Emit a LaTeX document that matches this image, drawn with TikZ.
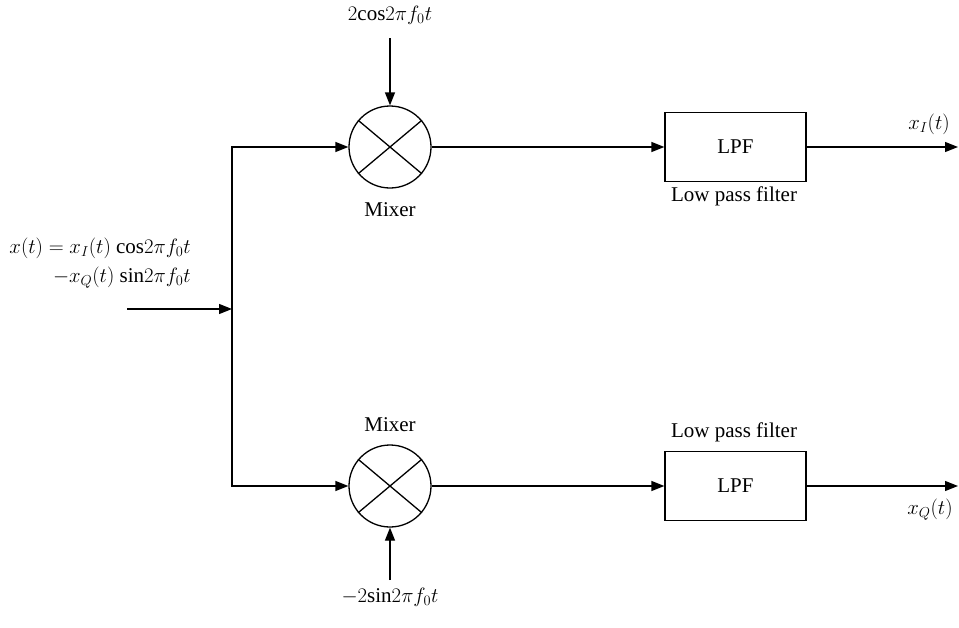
\documentclass[tikz,border=0pt]{standalone}
\usepackage{fontspec}
\setmainfont{Liberation Serif}
\usetikzlibrary{arrows.meta}
\tikzset{
  line/.style={line width=1.3pt},
  arr/.style={line width=1.3pt,-{Triangle[length=13pt,width=10pt]}},
  mixer/.style={circle,draw,line width=1.3pt,minimum size=82pt,inner sep=0pt},
  lpfbox/.style={rectangle,draw,line width=1.3pt,minimum width=141pt,minimum height=69pt,inner sep=0pt},
  lbl/.style={inner sep=0pt,font=\fontsize{21}{29}\selectfont}
}
\begin{document}
\begin{tikzpicture}[x=1pt,y=-1pt,font=\fontsize{21}{29}\selectfont]
\useasboundingbox (0,0) rectangle (959,627);
% blocks
\node[mixer] (mix1) at (390,147) {};
\node[mixer] (mix2) at (390,486) {};
\draw[line] (mix1.140) -- (mix1.320) (mix1.40) -- (mix1.220);
\draw[line] (mix2.140) -- (mix2.320) (mix2.40) -- (mix2.220);
\node[lpfbox] (lpf1) at (735.5,147) {LPF};
\node[lpfbox] (lpf2) at (735.5,486) {LPF};
% labels
\node[lbl] (lo1) at (390,15) {$2\mathrm{cos}2\pi f_0 t$};
\node[lbl] (lo2) at (390,597) {$-2\mathrm{sin}2\pi f_0 t$};
\node[lbl] (mx1) at (390,210) {Mixer};
\node[lbl] (mx2) at (390,425) {Mixer};
\node[lbl] (lp1) at (734,196) {Low pass filter};
\node[lbl] (lp2) at (734,432) {Low pass filter};
\node[lbl] (xi) at (929,124) {$x_I(t)$};
\node[lbl] (xq) at (930,510) {$x_Q(t)$};
\node[lbl,align=right,anchor=east] (xin) at (191,263) {$x(t) = x_I(t)\ \mathrm{cos}2\pi f_0 t$\\$-x_Q(t)\ \mathrm{sin}2\pi f_0 t$};
% coordinates
\coordinate (in) at (127,309);
\coordinate (j) at (232,309);
\coordinate (src1) at (390,38);
\coordinate (src2) at (390,580);
\coordinate (out1) at (958,147);
\coordinate (out2) at (958,486);
% connectors
\draw[arr] (in) -- (j);
\draw[arr] (j) |- (mix1.west);
\draw[arr] (j) |- (mix2.west);
\draw[arr] (src1) -- (mix1.north);
\draw[arr] (src2) -- (mix2.south);
\draw[arr] (mix1.east) -- (lpf1.west);
\draw[arr] (mix2.east) -- (lpf2.west);
\draw[arr] (lpf1.east) -- (out1);
\draw[arr] (lpf2.east) -- (out2);
\end{tikzpicture}
\end{document}
